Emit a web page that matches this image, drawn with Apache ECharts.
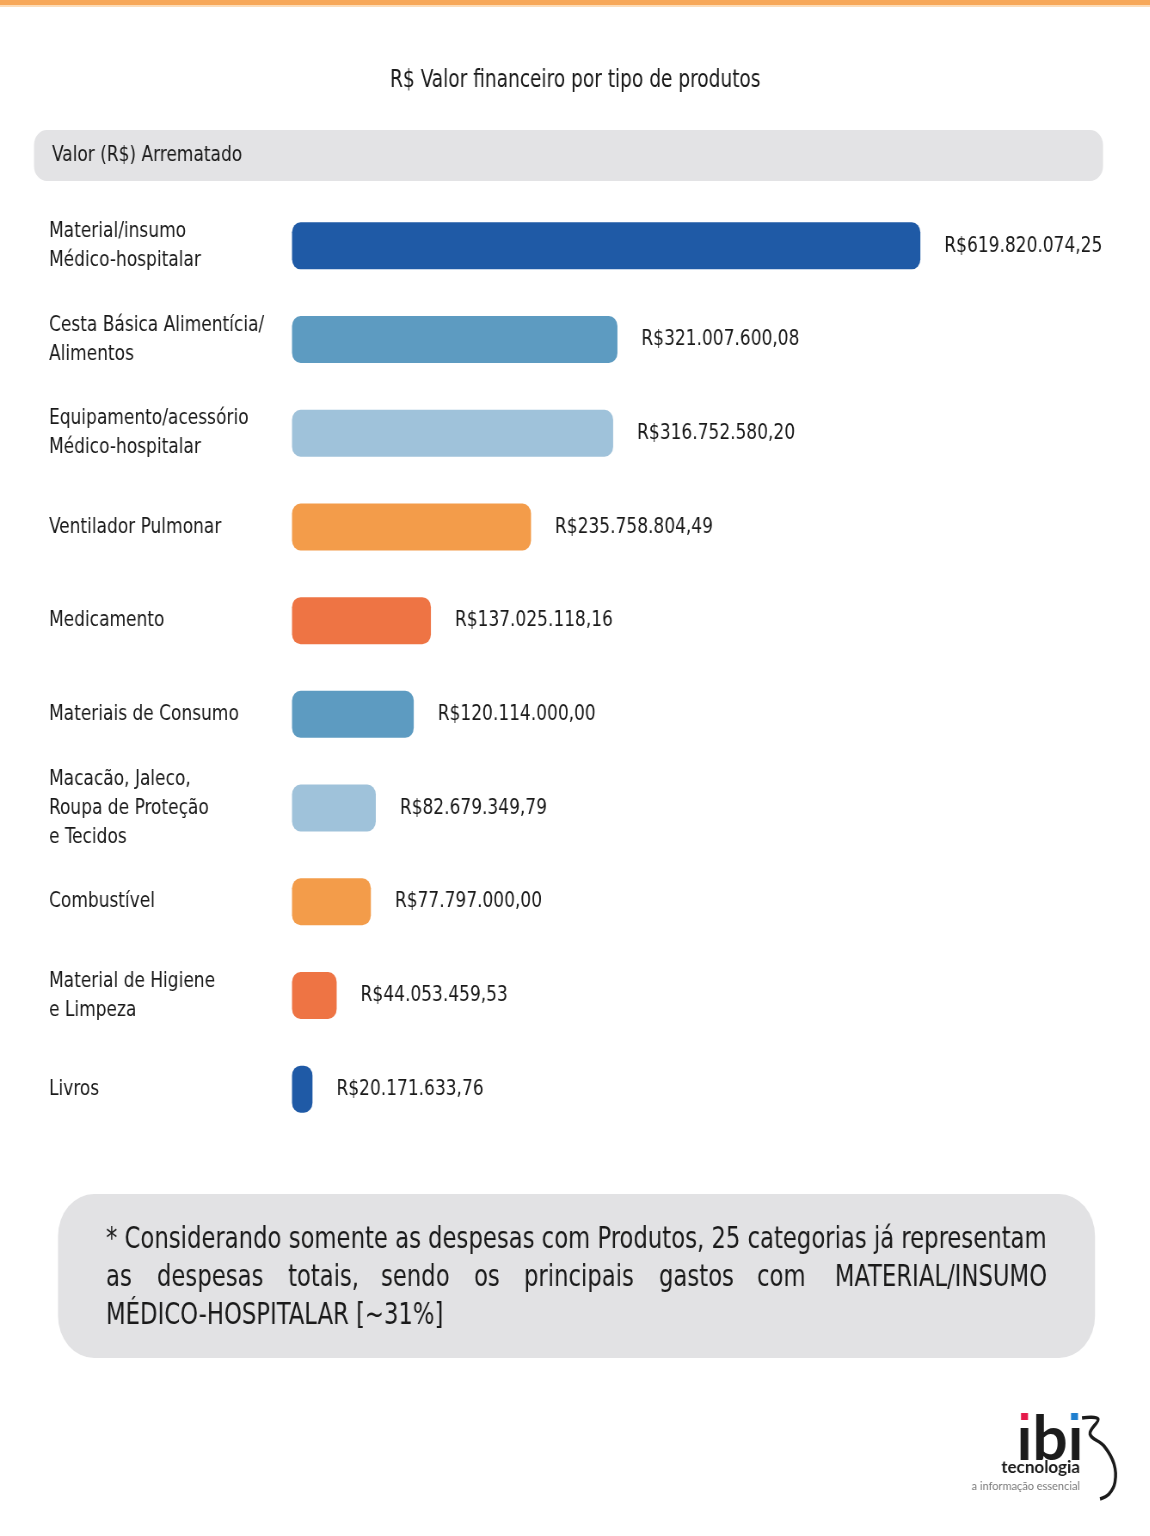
<!DOCTYPE html>
<html>
<head>
<meta charset="utf-8">
<script src="https://cdn.jsdelivr.net/npm/echarts@6/dist/echarts.min.js"></script>
<style>
html,body{margin:0;padding:0;background:#fff;overflow:hidden;width:1150px;height:1536px;}
#wrap{width:1150px;height:1536px;overflow:hidden;position:relative;}
#chart{height:1536px;transform-origin:0 0;position:absolute;left:0;top:0;}
</style>
</head>
<body>
<div id="wrap"><div id="chart"></div></div>
<script>
const categories = [
  'Material/insumo\nMédico-hospitalar',
  'Cesta Básica Alimentícia/\nAlimentos',
  'Equipamento/acessório\nMédico-hospitalar',
  'Ventilador Pulmonar',
  'Medicamento',
  'Materiais de Consumo',
  'Macacão, Jaleco,\nRoupa de Proteção\ne Tecidos',
  'Combustível',
  'Material de Higiene\ne Limpeza',
  'Livros'
];
const values = [619820074.25, 321007600.08, 316752580.20, 235758804.49, 137025118.16, 120114000.00, 82679349.79, 77797000.00, 44053459.53, 20171633.76];
const barColors = ['#1f5aa6','#5d9bc1','#9fc2da','#f39c4a','#ee7444','#5d9bc1','#9fc2da','#f39c4a','#ee7444','#1f5aa6'];

// horizontal condensation factor (the reference uses a condensed typeface)
const S = 0.86;
const W = 1150 / S;
function X(v) { return v / S; }

const FONT = "'DejaVu Sans Condensed','DejaVu Sans',sans-serif";
const LOGO_FONT = "'Lato','Noto Sans',sans-serif";

function fmtBRL(v) {
  const fixed = v.toFixed(2);
  const parts = fixed.split('.');
  const intPart = parts[0].replace(/\B(?=(\d{3})+(?!\d))/g, '.');
  return 'R$' + intPart + ',' + parts[1];
}

const el = document.getElementById('chart');
el.style.width = W + 'px';
el.style.transform = 'scaleX(' + S + ')';
const chart = echarts.init(el, null, {renderer: 'canvas', width: W, height: 1536});

const line2Words = [
  ['as', 106], ['despesas', 157], ['totais,', 288], ['sendo', 381], ['os', 474],
  ['principais', 524], ['gastos', 659], ['com', 757]
];

const footStyle = {fontFamily: FONT, fontSize: 29.4, fill: '#1a1a1a', verticalAlign: 'middle'};
function fs(extra) { return Object.assign({}, footStyle, extra); }

const graphics = [
  {type: 'rect', shape: {x: 0, y: 0, width: W, height: 5}, style: {fill: '#f7a85a'}},
  {type: 'rect', shape: {x: 0, y: 5, width: W, height: 2}, style: {fill: '#fcdcb8'}},
  {type: 'rect', shape: {x: X(34), y: 130, width: X(1069), height: 51, r: [13 / S, 13 / S, 13 / S, 13 / S]}, style: {fill: '#e3e3e5'}},
  {type: 'text', x: X(52), y: 155, style: {text: 'Valor (R$) Arrematado', fontFamily: FONT, fontSize: 22, fill: '#1a1a1a', verticalAlign: 'middle'}},
  {type: 'rect', shape: {x: X(58), y: 1194, width: X(1037), height: 164, r: 42}, style: {fill: '#e2e2e4'}},
  {type: 'text', x: X(106), y: 1240, style: fs({text: '* Considerando somente as despesas com Produtos, 25 categorias já representam'})},
  {type: 'text', x: X(1047), y: 1278, style: fs({text: 'MATERIAL/INSUMO', align: 'right'})},
  {type: 'text', x: X(106), y: 1316, style: fs({text: 'MÉDICO-HOSPITALAR [~31%]'})}
];
line2Words.forEach(function (w) {
  graphics.push({type: 'text', x: X(w[1]), y: 1278, style: fs({text: w[0]})});
});
// logo (un-condensed)
graphics.push(
  {type: 'text', x: X(1050), y: 1440, scaleX: 1 / S, style: {text: 'ıbı', fontFamily: LOGO_FONT, fontWeight: 'bold', fontSize: 62, fill: '#1b1b1b', align: 'center', verticalAlign: 'middle'}},
  {type: 'rect', shape: {x: X(1021), y: 1413, width: X(7), height: 7}, style: {fill: '#e5194a'}},
  {type: 'rect', shape: {x: X(1071), y: 1413, width: X(7), height: 7}, style: {fill: '#1f7fcf'}},
  {type: 'text', x: X(1080), y: 1468, scaleX: 1 / S, style: {text: 'tecnologia', fontFamily: LOGO_FONT, fontWeight: 'bold', fontSize: 17, fill: '#1b1b1b', align: 'right', verticalAlign: 'middle'}},
  {type: 'text', x: X(1080), y: 1486, scaleX: 1 / S, style: {text: 'a informação essencial', fontFamily: LOGO_FONT, fontSize: 11, fill: '#7a7a7a', align: 'right', verticalAlign: 'middle'}},
  {type: 'polyline', shape: {points: [[X(1082), 1418], [X(1098), 1419], [X(1090), 1434], [X(1104), 1446], [X(1114), 1464], [X(1115), 1482], [X(1109), 1494], [X(1100), 1499]], smooth: 0.4}, style: {stroke: '#1b1b1b', lineWidth: 3.5, fill: null}}
);

const option = {
  backgroundColor: '#ffffff',
  animation: false,
  title: {
    text: 'R$ Valor financeiro por tipo de produtos',
    left: X(571),
    textAlign: 'center',
    top: 64,
    textStyle: {fontFamily: FONT, fontSize: 24, fontWeight: 'normal', color: '#1a1a1a'}
  },
  grid: {left: X(292), top: 199, width: X(811), height: 937, containLabel: false},
  xAxis: {
    type: 'value', min: 0, max: 800000000,
    show: false
  },
  yAxis: {
    type: 'category',
    inverse: true,
    data: categories,
    axisLine: {show: false},
    axisTick: {show: false},
    splitLine: {show: false},
    axisLabel: {
      align: 'left',
      margin: X(243),
      fontFamily: FONT,
      fontSize: 22,
      lineHeight: 29,
      padding: [4, 0, 0, 0],
      color: '#1a1a1a'
    }
  },
  series: [{
    type: 'bar',
    data: values.map(function (v, i) { return {value: v, itemStyle: {color: barColors[i]}}; }),
    barWidth: 47,
    itemStyle: {borderRadius: 10},
    label: {
      show: true,
      position: 'right',
      distance: X(24),
      formatter: function (p) { return fmtBRL(p.value); },
      fontFamily: FONT,
      fontSize: 22,
      color: '#1a1a1a'
    }
  }],
  graphic: graphics
};
chart.setOption(option);
</script>
</body>
</html>
